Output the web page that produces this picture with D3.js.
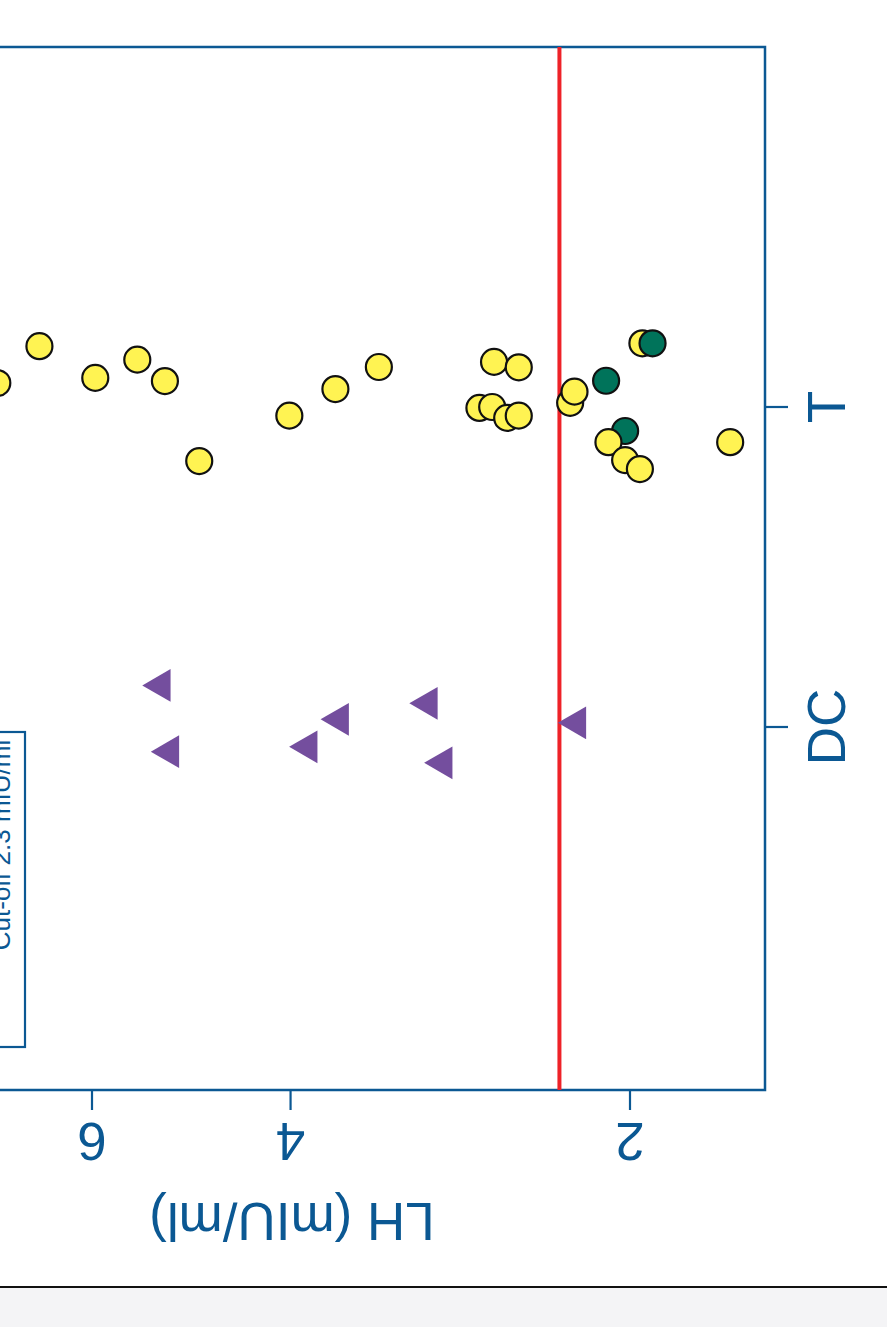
<!DOCTYPE html>
<html>
<head>
<meta charset="utf-8">
<script src="https://cdn.jsdelivr.net/npm/d3@7"></script>
<style>
  html, body { margin: 0; padding: 0; background: #ffffff; }
  svg { display: block; }
  text { font-family: "Liberation Sans", Arial, Helvetica, sans-serif; }
</style>
</head>
<body>
<script>
// ---------- data ----------
const categories = ["T", "DC"];
const xTickValues = [2, 4, 6];
const xTitle = "LH (mIU/ml)";
const cutoffLH = 2.31;
const legendLabel = "Cut-off 2.3 mIU/ml";

// T group: LH values, group (y = yellow, g = green), vertical jitter (fraction of category step)
const tValues = [7.28, 6.68, 5.96, 5.47, 5.17, 4.82, 4.01, 3.65, 3.34, 2.72, 2.65, 2.64, 2.57, 2.51, 2.51, 2.26, 2.24, 2.10, 2.02, 2.09, 2.02, 1.96, 1.95, 1.91, 1.63];
const tGroups = ["y","y","y","y","y","y","y","y","y","y","y","y","y","y","y","y","y","g","g","y","y","y","y","g","y"];
const tJitter = [-0.075, -0.19, -0.091, -0.148, -0.081, 0.169, 0.027, -0.056, -0.125, 0.003, 0.0, -0.141, 0.034, -0.124, 0.027, -0.013, -0.048, -0.082, 0.075, 0.110, 0.166, 0.194, -0.199, -0.199, 0.110];

// DC group: LH values and vertical jitter
const dcValues = [5.21, 5.12, 3.62, 3.86, 3.02, 2.93, 2.23];
const dcJitter = [-0.130, 0.077, -0.024, 0.062, -0.074, 0.112, -0.013];

// ---------- style ----------
const W = 887, H = 1327;
const blue = "#0b5893";
const yellow = "#fff352";
const green = "#00735a";
const purple = "#744e9e";
const red = "#ee2228";

const frame = { left: -200, right: 765, top: 47, bottom: 1090 };

const svg = d3.select("body").append("svg").attr("width", W).attr("height", H);

// scales
const x = d3.scaleLog().domain([2, 6]).range([630, 92]);
const y = d3.scalePoint().domain(categories).range([407, 727]);
const step = y.step();

// frame
svg.append("rect")
  .attr("x", frame.left).attr("y", frame.top)
  .attr("width", frame.right - frame.left).attr("height", frame.bottom - frame.top)
  .attr("fill", "none").attr("stroke", blue).attr("stroke-width", 2.5);

// bottom axis (log), rotated labels
const xAxis = svg.append("g").attr("transform", `translate(0,${frame.bottom})`);
xAxis.selectAll("line.tick").data(xTickValues).join("line")
  .attr("class", "tick")
  .attr("x1", d => x(d)).attr("x2", d => x(d))
  .attr("y1", 0).attr("y2", 20)
  .attr("stroke", blue).attr("stroke-width", 2.2);
xAxis.selectAll("text.tl").data(xTickValues).join("text")
  .attr("class", "tl")
  .attr("transform", d => `translate(${x(d)},33) rotate(180)`)
  .attr("text-anchor", "middle")
  .attr("font-size", 53)
  .attr("fill", blue)
  .text(d => d);

svg.append("text")
  .attr("transform", `translate(292,1203) rotate(180)`)
  .attr("text-anchor", "middle")
  .attr("font-size", 53)
  .attr("fill", blue)
  .text(xTitle);

// right axis (categories)
const yAxis = svg.append("g").attr("transform", `translate(${frame.right},0)`);
yAxis.selectAll("line").data(categories).join("line")
  .attr("x1", 0).attr("x2", 23)
  .attr("y1", d => y(d)).attr("y2", d => y(d))
  .attr("stroke", blue).attr("stroke-width", 2.2);
yAxis.selectAll("text").data(categories).join("text")
  .attr("transform", d => `translate(80,${y(d)}) rotate(-90)`)
  .attr("text-anchor", "middle")
  .attr("font-size", 53)
  .attr("fill", blue)
  .text(d => d);

// cut-off line
svg.append("line")
  .attr("x1", x(cutoffLH)).attr("x2", x(cutoffLH))
  .attr("y1", frame.top).attr("y2", frame.bottom)
  .attr("stroke", red).attr("stroke-width", 4);

// legend box (mostly off-screen, as in the reference crop)
svg.append("rect")
  .attr("x", -300).attr("y", 732).attr("width", 325).attr("height", 315)
  .attr("fill", "none").attr("stroke", blue).attr("stroke-width", 2.2);
svg.append("text")
  .attr("transform", `translate(10,845) rotate(-90)`)
  .attr("text-anchor", "middle")
  .attr("font-size", 26)
  .attr("fill", blue)
  .text(legendLabel);

// DC triangles
const triPath = d3.symbol().type(d3.symbolTriangle).size(463)();
svg.append("g").selectAll("path").data(dcValues.map((v, i) => ({ v, j: dcJitter[i] }))).join("path")
  .attr("d", triPath)
  .attr("transform", d => `translate(${x(d.v)},${y("DC") + d.j * step}) rotate(-90)`)
  .attr("fill", purple);

// T circles
const tData = tValues.map((v, i) => ({ v, g: tGroups[i], j: tJitter[i] }));
svg.append("g").selectAll("circle").data(tData).join("circle")
  .attr("cx", d => x(d.v))
  .attr("cy", d => y("T") + d.j * step)
  .attr("r", 13)
  .attr("fill", d => d.g === "g" ? green : yellow)
  .attr("stroke", "#111").attr("stroke-width", 2.2);

// bottom page strip
svg.append("rect").attr("x", 0).attr("y", 1288).attr("width", W).attr("height", H - 1288).attr("fill", "#f4f4f6");
svg.append("line").attr("x1", 0).attr("x2", W).attr("y1", 1287).attr("y2", 1287).attr("stroke", "#111").attr("stroke-width", 2);
</script>
</body>
</html>
